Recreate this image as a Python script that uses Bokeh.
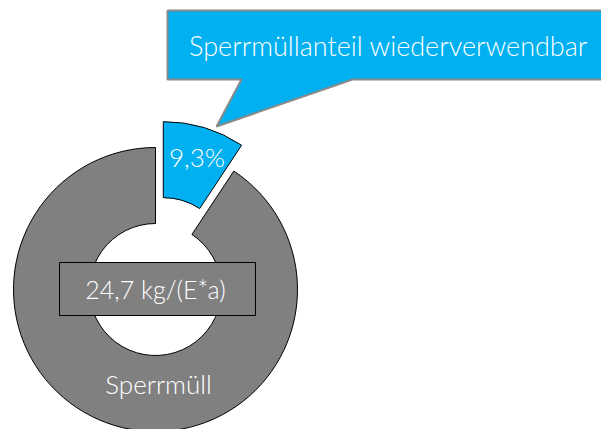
import math
from bokeh.plotting import figure
from bokeh.models import Range1d
from bokeh.core.properties import value
from bokeh.embed import file_html
from bokeh.resources import INLINE

# ---- data ----
categories = ["Sperrmüllanteil wiederverwendbar", "Sperrmüll"]
shares = [9.3, 90.7]            # percent
slice_labels = ["9,3%", "Sperrmüll"]
colors = ["#00B0F0", "#808080"]
total_label = "24,7 kg/(E*a)"
callout_text = "Sperrmüllanteil wiederverwendbar"

FONT = value("'Lato Light', Lato, 'Open Sans', sans-serif")
W, H = 601, 429
PH = 429  # picture height, used to map screen y to data y

p = figure(width=W, height=H, output_backend="svg", toolbar_location=None,
           x_range=Range1d(0, W), y_range=Range1d(PH - H, PH),
           min_border=0)
p.axis.visible = False
p.grid.visible = False
p.outline_line_color = None
p.background_fill_color = "white"

cx, cy = 155, PH - 289
r_out, r_in = 142, 66
explode = 27

# angles: start at 12 o'clock, clockwise
tot = sum(shares)
start = 90.0
for i, s in enumerate(shares):
    sweep = s / tot * 360.0
    a_hi = start
    a_lo = start - sweep
    start = a_lo
    mid = math.radians((a_hi + a_lo) / 2)
    if i == 0:
        ox, oy = explode * math.cos(mid), explode * math.sin(mid)
    else:
        ox, oy = 0, 0
    p.annular_wedge(x=cx + ox, y=cy + oy, inner_radius=r_in, outer_radius=r_out,
                    start_angle=math.radians(a_lo), end_angle=math.radians(a_hi),
                    direction="anticlock", fill_color=colors[i],
                    line_color="black", line_width=1)

# callout box
bx0, bx1, by_top, by_bot = 167, 620, PH - 10, PH - 79
p.patch(x=[bx0, bx1, bx1, 352, 216, 241, bx0],
        y=[by_top, by_top, by_bot, by_bot, PH - 126, by_bot, by_bot],
        fill_color="#00B0F0", line_color="#8a8a8a", line_width=2)
p.text(x=[388], y=[PH - 45], text=[callout_text], text_align="center",
       text_baseline="middle", text_color="white", text_font=FONT,
       text_font_size="27px")

# slice labels
p.text(x=[196.5], y=[PH - 156], text=[slice_labels[0]], text_align="center",
       text_baseline="middle", text_color="white", text_font=FONT,
       text_font_size="26px")
p.text(x=[158], y=[PH - 383], text=[slice_labels[1]], text_align="center",
       text_baseline="middle", text_color="white", text_font=FONT,
       text_font_size="26px")

# center total box
p.rect(x=[157], y=[PH - 288.5], width=196, height=53, fill_color="#808080",
       line_color="black", line_width=1)
p.text(x=[155], y=[PH - 288.5], text=[total_label], text_align="center",
       text_baseline="middle", text_color="white", text_font=FONT,
       text_font_size="25px")

open("out.html", "w").write(file_html(p, INLINE))
